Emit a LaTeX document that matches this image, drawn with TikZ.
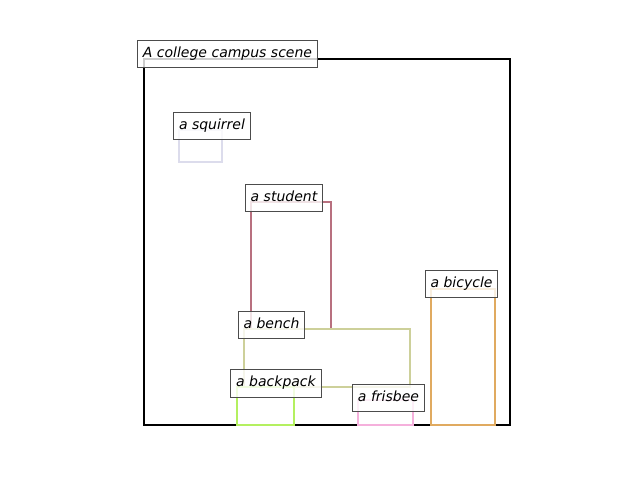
\documentclass[tikz,border=0pt]{standalone}
\usepackage{fontspec}
\setmainfont{DejaVu Sans}
\definecolor{cstudent}{HTML}{B8707F}
\definecolor{cbench}{HTML}{CDD09A}
\definecolor{cbackpack}{HTML}{B4F060}
\definecolor{cfrisbee}{HTML}{F5B0DC}
\definecolor{cbicycle}{HTML}{E0AA60}
\definecolor{csquirrel}{HTML}{DCDCEC}
\begin{document}
\begin{tikzpicture}[x=1pt,y=-1pt,
  objbox/.style={line width=2.4pt},
  lbl/.style={draw=black!70, line width=1pt, fill=white, fill opacity=0.8, text opacity=1,
    font=\fontsize{14}{16}\selectfont\itshape, inner xsep=5.5pt, inner ysep=7pt,
    text height=9.8pt, text depth=3.7pt}]
\useasboundingbox (0,0) rectangle (640,480);
\draw[objbox, black] (144,59) rectangle (510,425);
\draw[objbox, csquirrel] (179,130) rectangle (222,162);
\draw[objbox, cstudent] (251,202) rectangle (331,329);
\draw[objbox, cbench] (244,329) rectangle (410,387);
\draw[objbox, cbackpack] (237,387) rectangle (294,425);
\draw[objbox, cfrisbee] (358,400) rectangle (413,425);
\draw[objbox, cbicycle] (431,289) rectangle (495,425);
\node[lbl] (scene) at (227.5,54) {A college campus scene};
\node[lbl] (squirrel) at (212,126) {a squirrel};
\node[lbl] (student) at (284,198) {a student};
\node[lbl] (bench) at (271.5,325) {a bench};
\node[lbl] (backpack) at (276,383.5) {a backpack};
\node[lbl] (frisbee) at (388.5,398) {a frisbee};
\node[lbl] (bicycle) at (461.5,284) {a bicycle};
\end{tikzpicture}
\end{document}
